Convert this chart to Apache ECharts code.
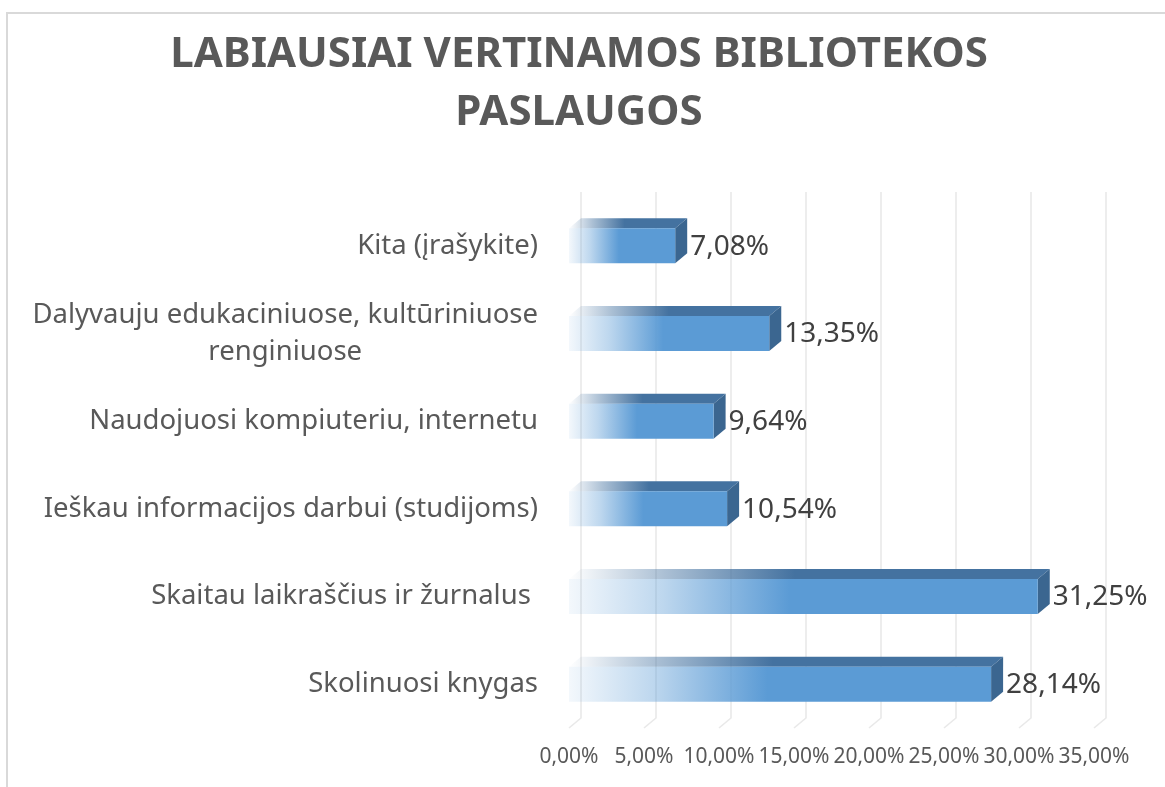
<!DOCTYPE html>
<html>
<head>
<meta charset="utf-8">
<script src="https://cdn.jsdelivr.net/npm/echarts@6/dist/echarts.min.js"></script>
<style>
html,body{margin:0;padding:0;background:#fff;}
#chart{width:1165px;height:787px;}
</style>
</head>
<body>
<div id="chart"></div>
<script>
// ---- data ----
var categories = [
  'Skolinuosi knygas',
  'Skaitau laikraščius ir žurnalus ',
  'Ieškau informacijos darbui (studijoms)',
  'Naudojuosi kompiuteriu, internetu',
  'Dalyvauju edukaciniuose, kultūriniuose\nrenginiuose',
  'Kita (įrašykite)'
];
var values = [28.14, 31.25, 10.54, 9.64, 13.35, 7.08];
var tickValues = [0, 5, 10, 15, 20, 25, 30, 35];
var titleText = 'LABIAUSIAI VERTINAMOS BIBLIOTEKOS\nPASLAUGOS';

function pct(v) { return v.toFixed(2).replace('.', ',') + '%'; }

var FONT = '"Noto Sans", "Open Sans", sans-serif';
var DX = 12, DY = 10;

var chart = echarts.init(document.getElementById('chart'), null, {renderer: 'canvas'});

var option = {
  backgroundColor: '#ffffff',
  animation: false,
  title: {
    text: titleText,
    left: 574,
    top: 21,
    textAlign: 'center',
    textStyle: {
      fontFamily: FONT,
      fontSize: 42,
      fontWeight: 'bold',
      color: '#595959',
      lineHeight: 58
    }
  },
  graphic: [{
    type: 'rect',
    shape: {x: 7, y: 13, width: 1170, height: 790},
    style: {fill: 'none', stroke: '#d9d9d9', lineWidth: 2},
    silent: true
  }],
  grid: {left: 569, top: 202, width: 525, height: 526, containLabel: false},
  xAxis: {
    type: 'value',
    min: 0, max: 35, interval: 5,
    axisLine: {show: false},
    axisTick: {show: false},
    splitLine: {show: false},
    axisLabel: {
      margin: 19,
      fontFamily: FONT,
      fontSize: 21,
      color: '#595959',
      formatter: function (v) { return pct(v); }
    }
  },
  yAxis: {
    type: 'category',
    data: categories,
    axisLine: {show: false},
    axisTick: {show: false},
    splitLine: {show: false},
    axisLabel: {
      margin: 31,
      align: 'right',
      fontFamily: FONT,
      fontSize: 27.5,
      lineHeight: 37,
      color: '#595959',
      formatter: function (v) {
        return v.split('\n').map(function (s) { return '{c|' + s + '}'; }).join('\n');
      },
      rich: {
        c: {fontFamily: FONT, fontSize: 27.5, lineHeight: 37, color: '#595959', align: 'center'}
      }
    }
  },
  series: [
    {
      type: 'custom',
      name: 'grid',
      silent: true,
      z: 1,
      data: tickValues.map(function (t) { return [t, 0]; }),
      renderItem: function (params, api) {
        var cs = params.coordSys;
        var x = api.coord([api.value(0), 0])[0];
        var top = cs.y - DY;
        var bottom = cs.y + cs.height;
        return {
          type: 'polyline',
          shape: {points: [[x + DX, top], [x + DX, bottom - DY], [x, bottom]]},
          style: {stroke: '#e9e9e9', lineWidth: 1.6, fill: 'none'}
        };
      }
    },
    {
      type: 'custom',
      name: 'bars',
      z: 2,
      data: values.map(function (v, i) { return [v, i]; }),
      renderItem: function (params, api) {
        var v = api.value(0);
        var idx = api.value(1);
        var p0 = api.coord([0, idx]);
        var p1 = api.coord([v, idx]);
        var band = api.size([0, 1])[1];
        var h = band * 0.4;
        var x0 = p0[0], x1 = p1[0];
        var yc = p0[1];
        var yT = yc - h / 2, yB = yc + h / 2;
        var frontGrad = new echarts.graphic.LinearGradient(0, 0, 1, 0, [
          {offset: 0, color: 'rgba(91,155,213,0.07)'},
          {offset: 0.2, color: 'rgba(91,155,213,0.4)'},
          {offset: 0.47, color: 'rgba(91,155,213,1)'},
          {offset: 1, color: 'rgba(91,155,213,1)'}
        ]);
        var topGrad = new echarts.graphic.LinearGradient(0, 0, 1, 0, [
          {offset: 0, color: 'rgba(68,114,160,0)'},
          {offset: 0.2, color: 'rgba(68,114,160,0.45)'},
          {offset: 0.47, color: 'rgba(68,114,160,1)'},
          {offset: 1, color: 'rgba(68,114,160,1)'}
        ]);
        return {
          type: 'group',
          children: [
            {
              type: 'polygon',
              shape: {points: [[x0, yT], [x1, yT], [x1 + DX, yT - DY], [x0 + DX, yT - DY]]},
              style: {fill: topGrad}
            },
            {
              type: 'polygon',
              shape: {points: [[x1, yT], [x1 + DX, yT - DY], [x1 + DX, yB - DY], [x1, yB]]},
              style: {fill: '#3b6690'}
            },
            {
              type: 'rect',
              shape: {x: x0, y: yT, width: x1 - x0, height: h},
              style: {fill: frontGrad}
            },
            {
              type: 'text',
              style: {
                text: pct(v),
                x: x1 + DX + 3,
                y: yc + 1,
                align: 'left',
                verticalAlign: 'middle',
                fontFamily: FONT,
                fontSize: 28,
                fill: '#404040'
              }
            }
          ]
        };
      }
    }
  ]
};

chart.setOption(option);
</script>
</body>
</html>
